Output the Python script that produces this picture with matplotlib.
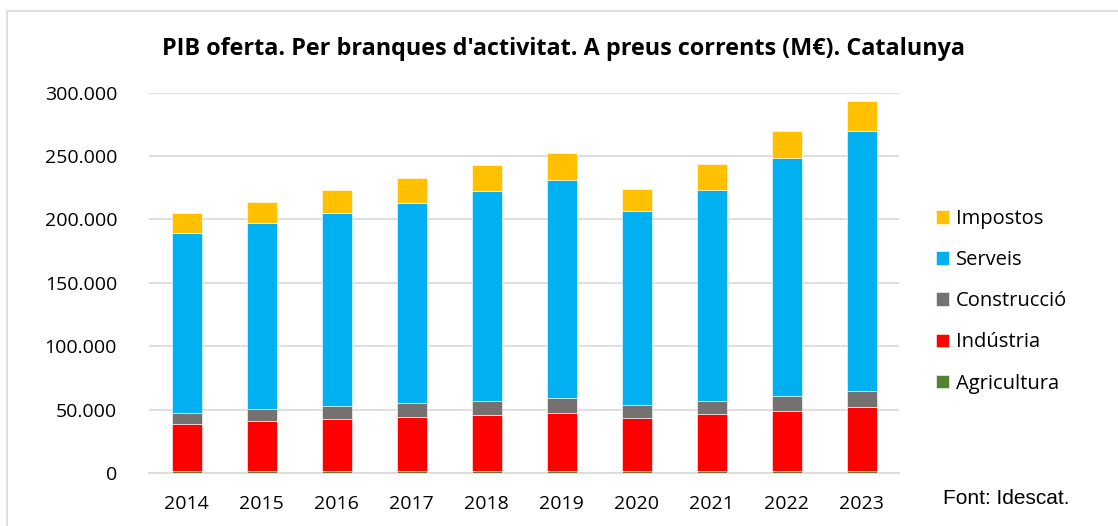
import matplotlib
matplotlib.use("Agg")
import matplotlib.pyplot as plt
from matplotlib.patches import Rectangle
from matplotlib.ticker import FuncFormatter
import numpy as np

years = ["2014", "2015", "2016", "2017", "2018", "2019", "2020", "2021", "2022", "2023"]
agricultura = [1400, 1500, 1500, 1500, 1500, 1600, 1600, 1600, 1700, 1800]
industria = [37300, 39600, 41100, 42700, 44300, 45800, 41800, 45000, 47300, 50300]
construccio = [8700, 9400, 10000, 11100, 11300, 11800, 10300, 10300, 11800, 12900]
serveis = [141800, 146400, 152200, 157900, 165000, 172200, 153200, 166300, 187700, 204800]
impostos = [16100, 17100, 18100, 19200, 20600, 20700, 17300, 20800, 21300, 23400]

series = [
    ("Agricultura", agricultura, "#548235"),
    ("Indústria", industria, "#FF0000"),
    ("Construcció", construccio, "#767171"),
    ("Serveis", serveis, "#00B0F0"),
    ("Impostos", impostos, "#FFC000"),
]

W, H = 1118, 526
fig = plt.figure(figsize=(W / 100, H / 100), dpi=100)
font = "Open Sans"

ax = fig.add_axes([149 / W, 1 - 473 / H, (899 - 149) / W, (473 - 92.6) / H])
x = np.arange(len(years))
bottom = np.zeros(len(years))
handles = []
for name, vals, col in series:
    b = ax.bar(x, vals, 0.4, bottom=bottom, color=col, edgecolor="white",
               linewidth=0.4, label=name, zorder=3)
    handles.append(b)
    bottom += np.array(vals)

ax.set_xlim(-0.5, len(years) - 0.5)
ax.set_ylim(0, 300000)
ax.set_yticks(np.arange(0, 300001, 50000))
ax.yaxis.set_major_formatter(FuncFormatter(lambda v, p: f"{int(v):,}".replace(",", ".")))
ax.set_xticks(x)
ax.set_xticklabels(years)
ax.grid(axis="y", color="#D9D9D9", linewidth=1.2, zorder=0)
for s in ["top", "right", "left"]:
    ax.spines[s].set_visible(False)
ax.spines["bottom"].set_color("#D9D9D9")
ax.spines["bottom"].set_linewidth(1.2)
ax.tick_params(axis="both", length=0, labelsize=14, colors="#000000")
ax.tick_params(axis="y", pad=23)
ax.tick_params(axis="x", pad=16)
for lab in ax.get_xticklabels() + ax.get_yticklabels():
    lab.set_fontfamily(font)

fig.text(563 / W, 1 - 49 / H,
         "PIB oferta. Per branques d'activitat. A preus corrents (M€). Catalunya",
         ha="center", va="center", fontsize=16.8, fontweight="bold", fontfamily=font)

leg = fig.legend(handles[::-1], [s[0] for s in series][::-1], loc="upper left",
                 bbox_to_anchor=(936 / W, 1 - 209 / H), bbox_transform=fig.transFigure,
                 frameon=False, borderpad=0, borderaxespad=0, handlelength=0.65,
                 handleheight=0.65, handletextpad=0.35, labelspacing=1.05,
                 prop={"family": font, "size": 14.5})

fig.text(943 / W, 1 - 498 / H, "Font: Idescat.", ha="left", va="center",
         fontsize=15, fontfamily="Liberation Sans")

fig.patches.append(Rectangle((7 / W, -0.05), 1.1, 1 - 11 / H + 0.05,
                             transform=fig.transFigure, fill=False,
                             edgecolor="#D9D9D9", linewidth=1.2))

fig.savefig("out.png", dpi=100)
